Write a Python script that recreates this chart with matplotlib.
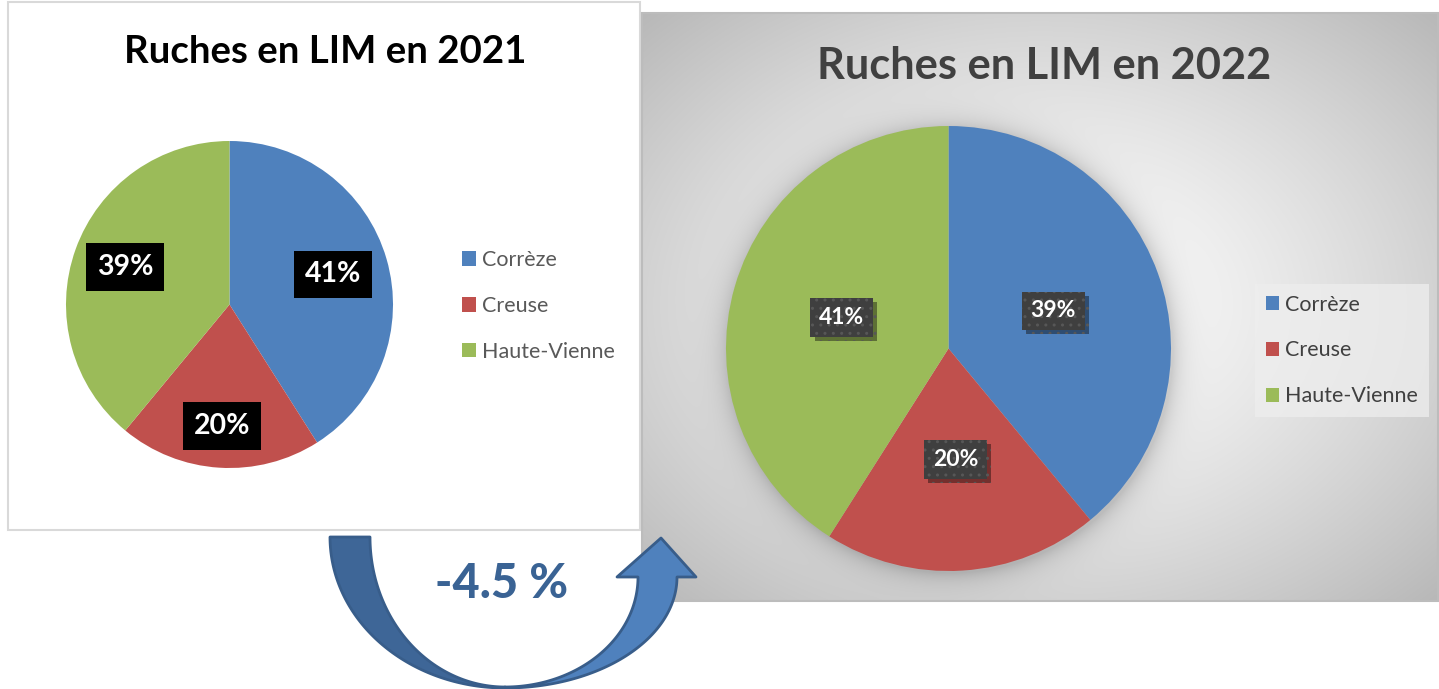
import numpy as np
import matplotlib
matplotlib.use('Agg')
import matplotlib.pyplot as plt
from matplotlib.patches import Rectangle, Polygon
import matplotlib.patheffects as pe

plt.rcParams['font.family'] = ['Lato', 'DejaVu Sans']
plt.rcParams['hatch.linewidth'] = 1.0

# ---------------- data ----------------
categories = ['Corrèze', 'Creuse', 'Haute-Vienne']
values_2021 = [41, 20, 39]
values_2022 = [39, 20, 41]
title_2021 = 'Ruches en LIM en 2021'
title_2022 = 'Ruches en LIM en 2022'
change_label = '-4.5 %'

# ---------------- style ----------------
colors = ['#4F81BD', '#C0504D', '#9BBB59']
W, H = 1439, 689

fig = plt.figure(figsize=(W / 100, H / 100), dpi=100)
bg = fig.add_axes([0, 0, 1, 1])
bg.set_xlim(0, W)
bg.set_ylim(H, 0)
bg.axis('off')


def px_axes(x0, y0, x1, y1):
    return fig.add_axes([x0 / W, 1 - y1 / H, (x1 - x0) / W, (y1 - y0) / H])


def fit_width(txt, target):
    fig.canvas.draw()
    w = txt.get_window_extent().width
    txt.set_fontsize(txt.get_fontsize() * target / w)


# left white panel
bg.add_patch(Rectangle((8, 2), 632, 528, facecolor='white', edgecolor='#d9d9d9',
                       linewidth=1.5, zorder=1))

# right panel gradient background
px0, px1, py0, py1 = 642, 1439, 13, 601
xs = np.arange(px0, px1) + 0.5
ys = np.arange(py0, py1) + 0.5
X, Y = np.meshgrid(xs, ys)
u = (X - 1040) / 398.5
v = (Y - 307) / 294.0
r = np.sqrt(u ** 2 + v ** 2) / np.sqrt(2)
g = 1 - 0.28 * np.clip(r, 0, 1) ** 1.35
# soft glow/shadow around the pie
cx2, cy2, r2 = 948.5, 348.5, 222.5
dd = np.sqrt((X - cx2 - 2) ** 2 + (Y - cy2 - 2) ** 2) - r2
g = g - 0.15 * np.exp(-np.clip(dd, 0, None) / 12.0)
g = np.clip(g, 0, 1)
img = np.dstack([g, g, g])
bg.imshow(img, extent=(px0, px1, py1, py0), interpolation='bilinear',
          aspect='auto', zorder=2)
bg.add_patch(Rectangle((px0, py0), px1 - px0 - 1, py1 - py0, fill=False,
                       edgecolor='#bcbcbc', linewidth=1.5, zorder=2.5))

# ---------------- left pie (2021) ----------------
cx1, cy1, r1 = 229.5, 304.5, 163.5
ax1 = px_axes(cx1 - r1, cy1 - r1, cx1 + r1, cy1 + r1)
w1, _, at1 = ax1.pie(values_2021, colors=colors, startangle=90, counterclock=False,
                     autopct='%.0f%%', wedgeprops=dict(linewidth=0),
                     textprops=dict(color='white', fontsize=20.5, fontweight='bold'))
ax1.set_xlim(-1, 1)
ax1.set_ylim(-1, 1)
dist1 = [0.66, 0.745, 0.68]
for wdg, t, d in zip(w1, at1, dist1):
    th = np.deg2rad((wdg.theta1 + wdg.theta2) / 2)
    t.set_position((d * np.cos(th), d * np.sin(th)))
    t.set_bbox(dict(boxstyle='square,pad=0.38', facecolor='black', edgecolor='none'))

fig.legend(handles=w1, labels=categories, loc='center left',
           bbox_to_anchor=(462 / W, 1 - 306 / H), frameon=False, fontsize=15.5,
           labelcolor='#595959', handlelength=0.65, handleheight=0.65,
           handletextpad=0.3, labelspacing=1.2, borderpad=0, borderaxespad=0)

t1 = bg.text(325, 63, title_2021, ha='center', va='baseline', fontsize=26,
             fontweight='bold', color='black', zorder=5)

# ---------------- right pie (2022) ----------------
ax2 = px_axes(cx2 - r2, cy2 - r2, cx2 + r2, cy2 + r2)
w2, _, at2 = ax2.pie(values_2022, colors=colors, startangle=90, counterclock=False,
                     autopct='%.0f%%', pctdistance=0.5, wedgeprops=dict(linewidth=0),
                     textprops=dict(color='white', fontsize=16.5, fontweight='bold'))
ax2.set_xlim(-1, 1)
ax2.set_ylim(-1, 1)
for t in at2:
    t.set_bbox(dict(boxstyle='square,pad=0.38', facecolor='#3f3f3f',
                    edgecolor='#575757', hatch='..', linewidth=0))
    t.set_zorder(4)
    t.get_bbox_patch().set_path_effects([
        pe.SimplePatchShadow(offset=(3, -3), shadow_rgbFace='black', alpha=0.4),
        pe.Normal()])

fig.legend(handles=w2, labels=categories, loc='center left',
           bbox_to_anchor=(1255 / W, 1 - 350.5 / H), frameon=True, fontsize=15.5,
           facecolor='#eeeeee', edgecolor='none', framealpha=0.75, fancybox=False,
           labelcolor='#404040', handlelength=0.6, handleheight=0.6,
           handletextpad=0.3, labelspacing=1.2, borderpad=0.5, borderaxespad=0)

t2 = bg.text(1044, 79, title_2022, ha='center', va='baseline', fontsize=28,
             fontweight='bold', color='#404040', zorder=5)

# ---------------- curved arrow ----------------
tt = np.linspace(np.pi, np.pi / 2, 80)
outer = np.column_stack([505 + 175 * np.cos(tt), 537 + 151 * np.sin(tt)])
inner = np.column_stack([505 + 135 * np.cos(tt), 537 + 150 * np.sin(tt)])[::-1]
left_band = np.vstack([outer, inner])
bg.add_patch(Polygon(left_band, closed=True, facecolor='#3E6697', edgecolor='#385D8A',
                     linewidth=2, joinstyle='round', zorder=6))

tr = np.linspace(np.pi / 2, 0, 80)
upper = np.column_stack([505 + 133 * np.cos(tr), 577 + 110 * np.sin(tr)])
lower = np.column_stack([505 + 172 * np.cos(tr), 577 + 111 * np.sin(tr)])[::-1]
head = np.array([[617, 577], [661, 538], [696, 577]])
right_band = np.vstack([upper, head, lower])
bg.add_patch(Polygon(right_band, closed=True, facecolor='#4F81BD', edgecolor='#385D8A',
                     linewidth=2, joinstyle='round', zorder=7))

t3 = bg.text(501.5, 598, change_label, ha='center', va='baseline', fontsize=32,
             fontweight='black', color='#3A6394', zorder=8)

fit_width(t1, 402)
fit_width(t2, 454)
fit_width(t3, 133)

fig.savefig('out.png', dpi=100)
